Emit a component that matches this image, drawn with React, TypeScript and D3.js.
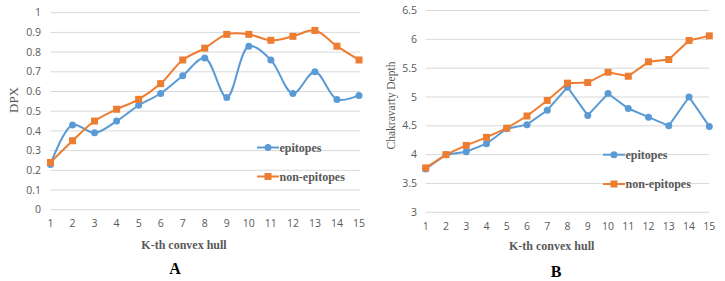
import React from "react";
import * as d3 from "d3";

const hulls = [1, 2, 3, 4, 5, 6, 7, 8, 9, 10, 11, 12, 13, 14, 15];
const dpxEpitopes = [0.23, 0.43, 0.39, 0.45, 0.53, 0.59, 0.68, 0.77, 0.57, 0.83, 0.76, 0.59, 0.70, 0.56, 0.58];
const dpxNonEpitopes = [0.24, 0.35, 0.45, 0.51, 0.56, 0.64, 0.76, 0.82, 0.89, 0.89, 0.86, 0.88, 0.91, 0.83, 0.76];
const cdEpitopes = [3.75, 4.0, 4.05, 4.19, 4.45, 4.52, 4.77, 5.17, 4.68, 5.06, 4.8, 4.65, 4.5, 5.0, 4.49];
const cdNonEpitopes = [3.77, 4.0, 4.16, 4.3, 4.46, 4.67, 4.94, 5.24, 5.25, 5.43, 5.36, 5.61, 5.65, 5.98, 6.06];
const dpxTicks = [0, 0.1, 0.2, 0.3, 0.4, 0.5, 0.6, 0.7, 0.8, 0.9, 1];
const cdTicks = [3, 3.5, 4, 4.5, 5, 5.5, 6, 6.5];

const BLUE = "#5b9bd5";
const ORANGE = "#ed7d31";
const GRID = "#d9d9d9";
const TICK = "#595959";

type PanelProps = {
  x0: number; x1: number; y0: number; y1: number;
  domain: [number, number]; ticks: number[];
  epi: number[]; non: number[]; smooth: boolean;
  yLabel: string; yLabelX: number; yLabelY: number; yLabelSize: number;
  tickRight: number; xTickY: number; titleY: number; titleX: number;
  letter: string; letterX: number; letterY: number;
  legX: number; legY1: number; legY2: number; gridRight: number;
  fmt: (v: number) => string;
};

function Panel(p: PanelProps) {
  const x = d3.scaleLinear().domain([1, 15]).range([p.x0, p.x1]);
  const y = d3.scaleLinear().domain(p.domain).range([p.y1, p.y0]);
  const line = d3.line<number>()
    .x((_, i) => x(hulls[i]))
    .y((d) => y(d))
    .curve(p.smooth ? d3.curveCatmullRom.alpha(0.5) : d3.curveLinear);
  return (
    <g>
      {p.ticks.map((t) => (
        <g key={t}>
          <line x1={p.x0} x2={p.gridRight} y1={y(t)} y2={y(t)} stroke={GRID} strokeWidth={1} />
          <text x={p.tickRight} y={y(t)} dy="0.35em" textAnchor="end" fontSize={10.5}
            fill={TICK} fontFamily="'Open Sans', 'Liberation Sans', sans-serif">{p.fmt(t)}</text>
        </g>
      ))}
      {hulls.map((h) => (
        <text key={h} x={x(h)} y={p.xTickY} dy="0.35em" textAnchor="middle" fontSize={10.5}
          fill={TICK} fontFamily="'Open Sans', 'Liberation Sans', sans-serif">{h}</text>
      ))}
      <path d={line(p.epi) || ""} fill="none" stroke={BLUE} strokeWidth={2} />
      <path d={line(p.non) || ""} fill="none" stroke={ORANGE} strokeWidth={2} />
      {p.epi.map((v, i) => (
        <circle key={"e" + i} cx={x(hulls[i])} cy={y(v)} r={3.5} fill={BLUE} />
      ))}
      {p.non.map((v, i) => (
        <rect key={"n" + i} x={x(hulls[i]) - 3.5} y={y(v) - 3.5} width={7} height={7} fill={ORANGE} />
      ))}
      <text transform={`translate(${p.yLabelX},${p.yLabelY}) rotate(-90)`} textAnchor="middle"
        dy="0.35em" fontSize={p.yLabelSize} fill={TICK} fontFamily="'Liberation Serif', serif">{p.yLabel}</text>
      <text x={p.titleX} y={p.titleY} dy="0.35em" textAnchor="middle" fontSize={12} fontWeight="bold"
        fill={TICK} fontFamily="'Liberation Serif', serif">K-th convex hull</text>
      <text x={p.letterX} y={p.letterY} dy="0.35em" textAnchor="middle" fontSize={16} fontWeight="bold"
        fill="#000" fontFamily="'Liberation Serif', serif">{p.letter}</text>
      <line x1={p.legX} x2={p.legX + 22} y1={p.legY1} y2={p.legY1} stroke={BLUE} strokeWidth={2} />
      <circle cx={p.legX + 11} cy={p.legY1} r={3.5} fill={BLUE} />
      <text x={p.legX + 22.5} y={p.legY1} dy="0.35em" fontSize={12} fontWeight="bold" fill={TICK}
        fontFamily="'Liberation Serif', serif">epitopes</text>
      <line x1={p.legX} x2={p.legX + 22} y1={p.legY2} y2={p.legY2} stroke={ORANGE} strokeWidth={2} />
      <rect x={p.legX + 7.5} y={p.legY2 - 3.5} width={7} height={7} fill={ORANGE} />
      <text x={p.legX + 22.5} y={p.legY2} dy="0.35em" fontSize={12} fontWeight="bold" fill={TICK}
        fontFamily="'Liberation Serif', serif">non-epitopes</text>
    </g>
  );
}

export default function App() {
  return (
    <svg width={725} height={281} style={{ position: "absolute", left: 0, top: 0, background: "#fff" }}>
      <rect width={725} height={281} fill="#fff" />
      <Panel x0={50.5} x1={359} y0={12.7} y1={209.7} domain={[0, 1]} ticks={dpxTicks}
        epi={dpxEpitopes} non={dpxNonEpitopes} smooth={true}
        yLabel="DPX" yLabelX={13} yLabelY={100} yLabelSize={13} tickRight={41} xTickY={223}
        titleX={184} titleY={245} letter="A" letterX={175} letterY={268}
        legX={257} legY1={147.5} legY2={176.5} gridRight={360}
        fmt={(v) => (v === 0 || v === 1 ? String(v) : d3.format(".1f")(v))} />
      <Panel x0={425.7} x1={709.3} y0={10.5} y1={212.3} domain={[3, 6.5]} ticks={cdTicks}
        epi={cdEpitopes} non={cdNonEpitopes} smooth={false}
        yLabel="Chakravarty Depth" yLabelX={391} yLabelY={105.5} yLabelSize={11.5} tickRight={417} xTickY={226.7}
        titleX={551.7} titleY={246} letter="B" letterX={556} letterY={271}
        legX={603} legY1={154.7} legY2={184} gridRight={709}
        fmt={(v) => String(v)} />
    </svg>
  );
}
